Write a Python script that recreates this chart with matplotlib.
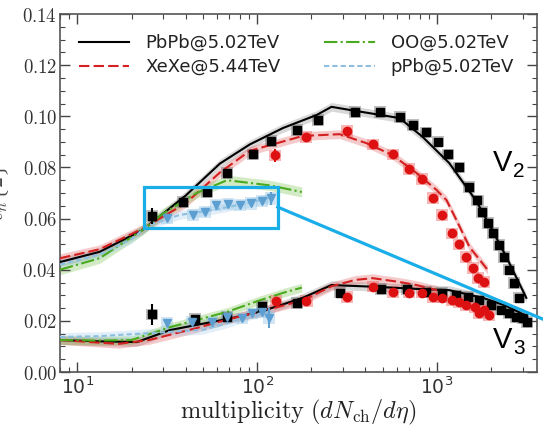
import numpy as np
import matplotlib
matplotlib.use('Agg')
import matplotlib.pyplot as plt
from matplotlib.patches import Rectangle
from matplotlib.ticker import FuncFormatter, MultipleLocator, LogLocator, NullFormatter

plt.rcParams['mathtext.fontset'] = 'cm'
plt.rcParams['font.family'] = ['DejaVu Sans']

# ---- theory curves, v2 ----
pbpb_v2_x = [8, 13.3, 23, 40, 62, 91, 139, 214, 259, 326, 619, 830, 1170, 1650, 2030, 2430, 3140]
pbpb_v2_y = [0.043, 0.047, 0.0555, 0.069, 0.0815, 0.089, 0.0954, 0.1005, 0.1037, 0.1025, 0.0993, 0.092, 0.0817, 0.067, 0.0555, 0.045, 0.029]
xexe_v2_x = [8, 13.3, 23, 40, 62, 91, 179, 287, 405, 566, 770, 994, 1130, 1283, 1516, 1910]
xexe_v2_y = [0.0445, 0.048, 0.056, 0.066, 0.078, 0.0865, 0.0923, 0.093, 0.0895, 0.0848, 0.0778, 0.0712, 0.0672, 0.0594, 0.0489, 0.040]
oo_v2_x = [8, 13.3, 23, 30, 46, 68, 117, 177]
oo_v2_y = [0.040, 0.0445, 0.0555, 0.062, 0.0700, 0.075, 0.073, 0.0704]
ppb_v2_x = [8, 13.3, 20, 25, 37, 57, 88, 122]
ppb_v2_y = [0.042, 0.046, 0.052, 0.0575, 0.0614, 0.0634, 0.066, 0.0685]

# ---- theory curves, v3 ----
pbpb_v3_x = [8, 13, 21.4, 32.7, 68, 103, 133, 179, 259, 461, 770, 1172, 1800, 2400, 3140]
pbpb_v3_y = [0.0125, 0.012, 0.0117, 0.0164, 0.0207, 0.0235, 0.026, 0.029, 0.034, 0.0333, 0.0325, 0.032, 0.029, 0.026, 0.022]
xexe_v3_x = [8, 13, 17, 25, 45, 68, 103, 179, 259, 350, 438, 619, 770, 1000]
xexe_v3_y = [0.0125, 0.0115, 0.011, 0.0125, 0.017, 0.0205, 0.0235, 0.028, 0.0335, 0.036, 0.0367, 0.0352, 0.034, 0.032]
oo_v3_x = [8, 13, 20, 33, 68, 103, 140, 177]
oo_v3_y = [0.0125, 0.0123, 0.0125, 0.0176, 0.0235, 0.028, 0.031, 0.033]
ppb_v3_x = [8, 13, 20, 30, 50, 68, 90, 122]
ppb_v3_y = [0.0137, 0.014, 0.0148, 0.0155, 0.0165, 0.019, 0.022, 0.024]

# ---- data points ----
pbpb_d2_x = [25.9, 38.5, 52.4, 67.7, 94.4, 120, 166, 217, 352, 485, 619, 740, 874, 1019, 1158, 1334,
             1516, 1680, 1790, 1933, 2061, 2225, 2372, 2529, 2697, 2873]
pbpb_d2_y = [0.061, 0.0665, 0.0704, 0.0778, 0.0852, 0.0903, 0.0946, 0.0985, 0.1017, 0.1017, 0.0997, 0.0966,
             0.0938, 0.090, 0.0852, 0.080, 0.0723, 0.0672, 0.0626, 0.0583, 0.0544, 0.0497, 0.045, 0.040, 0.0348, 0.029]
pbpb_d3_x = [25.9, 45, 68, 107, 166, 287, 490, 685, 874, 1073, 1283, 1480, 1722, 2010, 2280, 2530, 2750, 3000, 3180]
pbpb_d3_y = [0.0225, 0.0207, 0.0215, 0.0258, 0.027, 0.031, 0.0325, 0.0325, 0.0313, 0.031, 0.030, 0.0293,
             0.028, 0.0262, 0.0243, 0.023, 0.0215, 0.021, 0.0196]
xexe_d2_x = [125, 186, 314, 438, 567, 695, 821, 945, 1073, 1205, 1334, 1459, 1596, 1701, 1837]
xexe_d2_y = [0.0848, 0.0919, 0.0942, 0.0891, 0.0852, 0.0794, 0.0755, 0.068, 0.0614, 0.0543, 0.050, 0.045,
             0.0407, 0.0368, 0.0352]
xexe_d3_x = [128, 188, 314, 438, 567, 695, 821, 945, 1073, 1205, 1334, 1459, 1620, 1720, 1837, 1950]
xexe_d3_y = [0.0278, 0.0278, 0.0293, 0.0333, 0.0313, 0.031, 0.031, 0.0293, 0.029, 0.028, 0.0274, 0.0262,
             0.0254, 0.023, 0.0243, 0.0223]
ppb_d2_x = [31.4, 43.8, 51, 58.8, 68.5, 79.8, 92.9, 105.7, 120]
ppb_d2_y = [0.0602, 0.0614, 0.0626, 0.0653, 0.0657, 0.0653, 0.066, 0.0669, 0.068]
ppb_d3_x = [31.4, 43.3, 56, 68, 82, 94, 106, 117]
ppb_d3_y = [0.0192, 0.0196, 0.0196, 0.0215, 0.021, 0.023, 0.0235, 0.0211]

labels = ['PbPb@5.02TeV', 'XeXe@5.44TeV', 'OO@5.02TeV', 'pPb@5.02TeV']
c_black = '#000000'
c_red = '#d42020'
c_green = '#4aaa1e'
c_blue = '#8dbfe0'
c_blue_m = '#5c9fd0'

fig = plt.figure(figsize=(5.43, 4.26), dpi=100)
ax = fig.add_axes([60 / 543, 54 / 426, 477 / 543, 358 / 426])
ax.set_xscale('log')


def band(x, y, color, w=0.0017):
    y = np.array(y)
    ax.fill_between(x, y - w, y + w, color=color, alpha=0.3, lw=0, zorder=1)


def syst(x, y, color, dy=0.0022, f=1.08, alpha=0.45):
    for xi, yi in zip(x, y):
        ax.add_patch(Rectangle((xi / f, yi - dy), xi * f - xi / f, 2 * dy,
                               fc=color, ec='none', alpha=alpha, zorder=2))


# bands
band(pbpb_v2_x, pbpb_v2_y, '#808080')
band(pbpb_v3_x, pbpb_v3_y, '#808080')
band(xexe_v2_x, xexe_v2_y, '#e05050')
band(xexe_v3_x, xexe_v3_y, '#e05050')
band(oo_v2_x, oo_v2_y, '#70c040', w=0.002)
band(oo_v3_x, oo_v3_y, '#70c040')
band(ppb_v2_x, ppb_v2_y, '#a0cce8')
band(ppb_v3_x, ppb_v3_y, '#a0cce8')

# systematic boxes
syst(pbpb_d2_x, pbpb_d2_y, '#707070')
syst(pbpb_d3_x, pbpb_d3_y, '#707070')
syst(xexe_d2_x, xexe_d2_y, '#ee6060')
syst(xexe_d3_x, xexe_d3_y, '#ee6060')
syst(ppb_d2_x, ppb_d2_y, '#8cc0e4', dy=0.0025, alpha=0.4)
syst(ppb_d3_x, ppb_d3_y, '#8cc0e4', alpha=0.4)

# theory lines
ax.plot(pbpb_v2_x, pbpb_v2_y, color=c_black, lw=1.5, zorder=4, label=labels[0])
ax.plot(pbpb_v3_x, pbpb_v3_y, color=c_black, lw=1.5, zorder=4)
ax.plot(xexe_v2_x, xexe_v2_y, color=c_red, lw=1.5, dashes=(5, 2), zorder=4, label=labels[1])
ax.plot(xexe_v3_x, xexe_v3_y, color=c_red, lw=1.5, dashes=(5, 2), zorder=4)
ax.plot(oo_v2_x, oo_v2_y, color=c_green, lw=1.5, ls='-.', zorder=4, label=labels[2])
ax.plot(oo_v3_x, oo_v3_y, color=c_green, lw=1.5, ls='-.', zorder=4)
ax.plot(ppb_v2_x, ppb_v2_y, color=c_blue, lw=1.5, dashes=(2.5, 1.5), zorder=4, label=labels[3])
ax.plot(ppb_v3_x, ppb_v3_y, color=c_blue, lw=1.5, dashes=(2.5, 1.5), zorder=4)

# data markers
err_b2 = [0.003] + [0.0005] * (len(pbpb_d2_x) - 1)
err_b3 = [0.004, 0.0015] + [0.0005] * (len(pbpb_d3_x) - 2)
err_r2 = [0.0025] + [0.0005] * (len(xexe_d2_x) - 1)
err_p2 = [0.0005] * (len(ppb_d2_x) - 1) + [0.0025]
err_p3 = [0.0005] * (len(ppb_d3_x) - 1) + [0.004]
ax.errorbar(pbpb_d2_x, pbpb_d2_y, yerr=err_b2, fmt='s', color=c_black, ms=6, elinewidth=1.5, zorder=5)
ax.errorbar(pbpb_d3_x, pbpb_d3_y, yerr=err_b3, fmt='s', color=c_black, ms=6, elinewidth=1.5, zorder=5)
ax.errorbar(xexe_d2_x, xexe_d2_y, yerr=err_r2, fmt='o', color='#dd1111', ms=6, elinewidth=1.5, zorder=5)
ax.errorbar(xexe_d3_x, xexe_d3_y, yerr=0.0005, fmt='o', color='#dd1111', ms=6, elinewidth=1.5, zorder=5)
ax.errorbar(ppb_d2_x, ppb_d2_y, yerr=err_p2, fmt='v', color=c_blue_m, ms=6, elinewidth=1.5, zorder=5)
ax.errorbar(ppb_d3_x, ppb_d3_y, yerr=err_p3, fmt='v', color=c_blue_m, ms=6, elinewidth=1.5, zorder=5)

# highlight box and line
ax.add_patch(Rectangle((23.4, 0.0565), 130 - 23.4, 0.0724 - 0.0565, fill=False,
                       ec='#1aaee8', lw=2.3, zorder=6))
ax.plot([130, 3900], [0.0645, 0.0206], color='#1aaee8', lw=2.3, zorder=6, clip_on=False)

# V2 / V3 labels
ax.text(2050, 0.0785, 'V', fontsize=21, family='Liberation Sans', ha='left', va='baseline')
ax.text(2650, 0.0762, '2', fontsize=15, family='Liberation Sans', ha='left', va='baseline')
ax.text(2050, 0.0095, 'V', fontsize=21, family='Liberation Sans', ha='left', va='baseline')
ax.text(2650, 0.0072, '3', fontsize=15, family='Liberation Sans', ha='left', va='baseline')

ax.set_xlim(8.0, 3600)
ax.set_ylim(0, 0.14)
ax.yaxis.set_major_locator(MultipleLocator(0.02))
ax.yaxis.set_minor_locator(MultipleLocator(0.005))
ax.yaxis.set_major_formatter(FuncFormatter(lambda v, p: '$%.2f$' % v))
ax.xaxis.set_major_locator(LogLocator(base=10))
ax.xaxis.set_minor_locator(LogLocator(base=10, subs=np.arange(2, 10)))
ax.xaxis.set_minor_formatter(NullFormatter())
ax.tick_params(which='both', direction='in', top=True, right=True, colors='#444444', labelcolor='#333333')
ax.tick_params(which='major', length=7, width=1, labelsize=13.5)
ax.tick_params(axis='y', which='major', pad=2)
ax.tick_params(which='minor', length=3.5, width=0.8)
for s in ax.spines.values():
    s.set_color('#555555')
    s.set_linewidth(1.2)

ax.set_xlabel(r'$\mathrm{multiplicity}\ (dN_{\mathrm{ch}}/d\eta)$', fontsize=17.5, color='#222222', labelpad=0)
ax.set_ylabel(r'$v_n\{2\}$', fontsize=16, color='#444444', labelpad=8)

leg = ax.legend(ncol=2, frameon=False, fontsize=13, loc='upper left', bbox_to_anchor=(0.005, 0.99),
                handlelength=2.8, handletextpad=0.9, columnspacing=2.4, labelspacing=0.35)
for t in leg.get_texts():
    t.set_color('#222222')

fig.savefig('out.png', dpi=100)
